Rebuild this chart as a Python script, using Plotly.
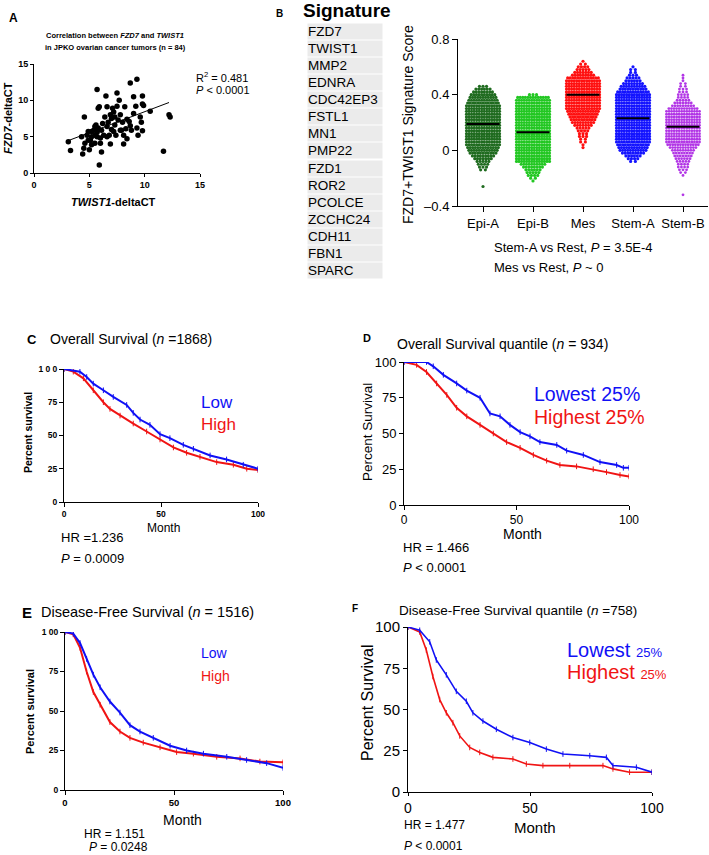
import plotly.graph_objects as go

W, H = 709, 855
FONT = "Liberation Sans, Arial, sans-serif"


def px(x):
    return x / W


def py(y):
    return 1 - y / H


# ---------------- Panel A data ----------------
twist1_dct = [3.1, 3.3, 4.3, 4.4, 4.5, 4.55, 4.6, 4.8, 4.9, 5.0, 5.1, 5.2, 5.2, 5.4, 5.5, 5.5, 5.6,
              5.7, 5.7, 5.8, 5.9, 5.9, 6.0, 6.0, 6.1, 6.2, 6.3, 6.4, 6.5, 6.6, 6.6, 6.7, 6.8, 6.9,
              6.9, 7.0, 7.1, 7.2, 7.3, 7.3, 7.4, 7.5, 7.5, 7.6, 7.7, 7.8, 7.9, 8.0, 8.1, 8.2, 8.3,
              8.4, 8.6, 8.7, 8.8, 9.0, 9.0, 9.2, 9.3, 9.3, 9.4, 9.6, 9.7, 9.8, 9.8, 9.9, 9.8, 10.5,
              11.7, 12.2, 12.3, 5.2, 5.5, 6.1, 7.8, 8.4, 7.0, 5.7, 4.9, 8.1, 8.7, 7.2, 6.6, 5.8]
fzd7_dct = [4.3, 3.1, 5.0, 2.6, 3.4, 7.7, 4.1, 5.2, 5.7, 3.2, 4.5, 5.0, 5.7, 5.9, 6.4, 5.2, 6.6,
            11.5, 5.6, 8.9, 1.1, 9.1, 4.8, 4.1, 5.9, 6.8, 5.2, 7.7, 10.6, 9.1, 6.4, 7.0, 5.2, 4.0,
            8.0, 7.5, 8.9, 8.4, 7.7, 6.6, 5.2, 9.2, 11.0, 7.3, 10.0, 8.0, 5.9, 7.0, 5.2, 9.1, 6.1,
            7.4, 7.1, 12.4, 5.9, 8.2, 10.5, 9.2, 6.2, 12.9, 5.2, 7.7, 7.0, 10.6, 9.5, 9.3, 5.8, 8.5,
            3.0, 8.0, 7.7, 3.9, 4.1, 2.9, 5.9, 4.7, 6.0, 5.0, 4.5, 4.0, 6.5, 5.7, 5.0, 6.2]
fit_x = [3.0, 12.2]
fit_y = [4.4, 9.7]

# ---------------- Panel B data ----------------
signature_genes = ["FZD7", "TWIST1", "MMP2", "EDNRA", "CDC42EP3", "FSTL1", "MN1", "PMP22",
                   "FZD1", "ROR2", "PCOLCE", "ZCCHC24", "CDH11", "FBN1", "SPARC"]
subtypes = ["Epi-A", "Epi-B", "Mes", "Stem-A", "Stem-B"]
subtype_colors = ["#1f6b1f", "#22c722", "#ff1010", "#1414ff", "#b236e6"]
score_levels = [0.64, 0.62, 0.60, 0.58, 0.56, 0.54, 0.52, 0.50, 0.48, 0.46, 0.44, 0.42, 0.40,
                0.38, 0.36, 0.34, 0.32, 0.30, 0.28, 0.26, 0.24, 0.22, 0.20, 0.18, 0.16, 0.14,
                0.12, 0.10, 0.08, 0.06, 0.04, 0.02, 0.00, -0.02, -0.04, -0.06, -0.08, -0.10,
                -0.12, -0.14, -0.16, -0.18, -0.20, -0.22, -0.24, -0.26, -0.28, -0.30, -0.32]
counts_epi_a = [0, 0, 0, 0, 0, 0, 0, 0, 0, 3, 6, 8, 10, 11, 12, 13,
                14, 14, 14, 14, 14, 14, 14, 14, 14, 14, 14, 14, 14, 14, 14,
                13, 12, 11, 9, 7, 5, 4, 3, 2, 0, 0, 0, 0, 0, 1, 0, 0, 0]
counts_epi_b = [0, 0, 0, 0, 0, 0, 0, 0, 0, 0, 0, 0, 3, 13,
                14, 14, 14, 14, 14, 14, 14, 14, 14, 14, 14, 14, 14, 14, 14, 14, 14, 14, 14, 14,
                14, 14, 14, 10, 8, 6, 5, 4, 2, 1, 0, 0, 0, 0, 0]
counts_mes = [1, 2, 4, 5, 7, 9, 13, 14, 14, 14, 14, 14, 14, 14, 14, 14, 14, 14,
              13, 12, 11, 10, 9, 7, 5, 4, 3, 3, 2, 2, 1, 1,
              0, 0, 0, 0, 0, 0, 0, 0, 0, 0, 0, 0, 0, 0, 0, 0, 0]
counts_stem_a = [0, 0, 1, 2, 2, 3, 5, 6, 8, 10, 11, 13,
                 14, 14, 14, 14, 14, 14, 14, 14, 14, 14, 14, 14, 14, 14, 14, 14, 14, 14,
                 13, 12, 11, 9, 6, 4, 2, 0, 0, 0, 0, 0, 0, 0, 0, 0, 0, 0, 0]
counts_stem_b = [0, 0, 0, 0, 0, 1, 1, 1, 2, 2, 3, 3, 4, 4, 5, 7, 9, 12,
                 14, 14, 14, 14, 14, 14, 14, 14, 14, 14, 14, 14,
                 13, 11, 9, 8, 7, 6, 5, 4, 4, 3, 2, 1, 0, 0, 0, 0, 0, 0, 1]
subtype_counts = [counts_epi_a, counts_epi_b, counts_mes, counts_stem_a, counts_stem_b]
subtype_medians = [0.19, 0.13, 0.40, 0.23, 0.17]

# ---------------- Survival data ----------------
c_low_m = [0, 8.2, 11.7, 15.1, 20.3, 25.4, 32.3, 35.7, 39.2, 44.3, 49.5, 54.6, 61.5, 66.7, 75.3, 83.8, 92.4, 100]
c_low_s = [100, 98, 94, 89, 84, 79, 73, 67, 62, 58, 51, 48, 43, 40, 35, 32, 28, 25]
c_high_m = [0, 4.8, 10, 15.1, 20.3, 23.7, 28.9, 35.7, 42.6, 49.5, 56.4, 63.2, 70.1, 78.7, 87.3, 94.2, 100]
c_high_s = [100, 98, 93, 84, 75, 70, 65, 59, 53, 47, 41, 37, 34, 30, 28, 25, 24]

d_low_m = [0, 10, 13, 17.5, 23.4, 27.9, 33.8, 38.2, 42.7, 47.1, 51.6, 56, 60.4, 67.9, 72.3, 79.7, 87.1, 94.5, 97.5, 100]
d_low_s = [100, 100, 97, 91, 85, 80, 75, 64, 62, 56, 51, 48, 44, 42, 38, 35, 30, 28, 26, 26]
d_high_m = [0, 5.6, 10, 14.5, 19, 23.4, 27.9, 33.8, 39.7, 45.6, 51.6, 57.5, 63.4, 69.3, 76.7, 84.1, 90, 96, 100]
d_high_s = [100, 98, 93, 85, 77, 68, 62, 56, 50, 44, 40, 35, 31, 28, 27, 25, 23, 21, 20]

e_low_m = [0, 3.8, 6.9, 9.9, 13, 16.1, 20.6, 25.2, 29.8, 34.4, 40.5, 48.2, 55.8, 63.5, 74.2, 83.3, 92.5, 100]
e_low_s = [100, 99, 93, 83, 73, 65, 56, 49, 41, 37, 33, 28, 25, 23, 21, 19, 17, 14]
e_high_m = [0, 3.8, 6.9, 9.9, 13, 16.1, 20.6, 25.2, 29.8, 35.9, 43.6, 51.2, 58.9, 69.6, 80.3, 89.4, 100]
e_high_s = [100, 98.5, 90, 75, 62, 54, 43, 37, 33, 30, 27, 24, 23, 21, 20, 18, 17.5]

f_low_m = [0, 4.8, 8.9, 11.6, 15.7, 19.8, 23.9, 26.6, 30.7, 36.2, 43, 49.9, 56.7, 63.5, 74.5, 81.3, 84, 93.6, 100]
f_low_s = [100, 98, 91, 80, 71, 61, 55, 48, 43, 38, 33, 30, 26, 23, 22, 21, 16, 15, 12]
f_high_m = [0, 4.8, 7.5, 10.2, 13, 15.7, 18.4, 21.2, 25.3, 29.4, 34.8, 43, 48.5, 55.3, 66.3, 79.9, 84, 90.8, 100]
f_high_s = [100, 97, 86, 70, 56, 48, 42, 34, 27, 24, 21, 20, 17, 16, 16, 16, 14, 12, 12]

BLUE = "#1010f5"
RED = "#f01414"

fig = go.Figure()

# ---- Panel A ----
fig.add_trace(go.Scatter(x=twist1_dct, y=fzd7_dct, mode="markers", xaxis="x", yaxis="y",
                         marker=dict(color="black", size=5.5), hoverinfo="skip"))
fig.add_trace(go.Scatter(x=fit_x, y=fit_y, mode="lines", xaxis="x", yaxis="y",
                         line=dict(color="black", width=1), hoverinfo="skip"))

# ---- Panel B swarm ----
HALF = 0.33
MAXC = 14
for gi, (name, counts, col) in enumerate(zip(subtypes, subtype_counts, subtype_colors)):
    xs, ys = [], []
    for lvl, n in zip(score_levels, counts):
        if n <= 0:
            continue
        hw = HALF * n / MAXC
        for k in range(n):
            off = 0.0 if n == 1 else -hw + 2 * hw * k / (n - 1)
            xs.append(gi + off)
            ys.append(lvl)
    fig.add_trace(go.Scatter(x=xs, y=ys, mode="markers", xaxis="x2", yaxis="y2",
                             marker=dict(color=col, size=3.2 if gi != 4 else 2.8, line=dict(width=0)),
                             hoverinfo="skip"))
    fig.add_trace(go.Scatter(x=[gi - HALF, gi + HALF], y=[subtype_medians[gi]] * 2, mode="lines",
                             xaxis="x2", yaxis="y2", line=dict(color="black", width=2),
                             hoverinfo="skip"))


# ---- Survival panels ----
def km(xs, ys, col, xa, ya, width=2):
    fig.add_trace(go.Scatter(x=xs, y=ys, mode="lines+markers", xaxis=xa, yaxis=ya,
                             line=dict(color=col, width=width),
                             marker=dict(symbol="line-ns", size=4, color=col,
                                         line=dict(width=1, color=col)),
                             hoverinfo="skip"))


km(c_high_m, c_high_s, RED, "x3", "y3")
km(c_low_m, c_low_s, BLUE, "x3", "y3")
km(d_high_m, d_high_s, RED, "x4", "y4")
km(d_low_m, d_low_s, BLUE, "x4", "y4")
km(e_high_m, e_high_s, RED, "x5", "y5")
km(e_low_m, e_low_s, BLUE, "x5", "y5")
km(f_high_m, f_high_s, RED, "x6", "y6", 1.6)
km(f_low_m, f_low_s, BLUE, "x6", "y6", 1.6)


def axis(domain, rng, tickvals, ticktext, size, bold=False, anchor=None, ticklen=4):
    d = dict(domain=domain, range=rng, tickvals=tickvals, ticktext=ticktext, automargin=False,
             showline=True, linecolor="black", linewidth=1, ticks="outside", ticklen=ticklen,
             tickcolor="black", tickwidth=1, showgrid=False, zeroline=False, fixedrange=True,
             tickfont=dict(family=FONT, size=size, color="black", weight="bold" if bold else "normal"))
    if anchor:
        d["anchor"] = anchor
    return d


layout = dict(
    template="none",
    width=W, height=H, margin=dict(l=0, r=0, t=0, b=0, pad=0, autoexpand=False), showlegend=False,
    paper_bgcolor="white", plot_bgcolor="white", font=dict(family=FONT, color="black"),
    xaxis=axis([px(34), px(200)], [0, 15], [0, 5, 10, 15], ["0", "5", "10", "15"], 9, True, "y", 3),
    yaxis=axis([py(173), py(64)], [0, 15], [0, 5, 10, 15], ["0", "5", "10", "15"], 9, True, "x", 3),
    xaxis2=axis([px(458), px(708)], [-0.5, 4.5], [0, 1, 2, 3, 4], subtypes, 13, False, "y2", 5),
    yaxis2=axis([py(206), py(39)], [-0.4, 0.8], [-0.4, 0, 0.4, 0.8], ["\u20130.4", "0", "0.4", "0.8"], 13, False, "x2", 5),
    xaxis3=axis([px(64), px(258)], [0, 100], [0, 50, 100], ["0", "50", "100"], 8.5, True, "y3"),
    yaxis3=axis([py(502), py(369)], [0, 100], [0, 25, 50, 75, 100], ["0", "25", "50", "75", "1 0 0"], 8.5, True, "x3"),
    xaxis4=axis([px(404), px(629)], [0, 100], [0, 50, 100], ["0", "50", "100"], 12, False, "y4"),
    yaxis4=axis([py(505), py(362)], [0, 100], [0, 25, 50, 75, 100], ["0", "25", "50", "75", "100"], 13, False, "x4"),
    xaxis5=axis([px(65), px(283)], [0, 100], [0, 50, 100], ["0", "50", "100"], 9.5, True, "y5"),
    yaxis5=axis([py(790), py(632)], [0, 100], [0, 25, 50, 75, 100], ["0", "25", "50", "75", "1 00"], 8.5, True, "x5"),
    xaxis6=axis([px(408), px(652)], [0, 100], [0, 50, 100], ["0", "50", "100"], 14, False, "y6", 3),
    yaxis6=axis([py(792), py(627)], [0, 100], [0, 25, 50, 75, 100], ["0", "25", "50", "75", "100"], 15, False, "x6"),
)

ann = []


def txt(x, y, text, size, color="black", xanchor="center", angle=0, yanchor="middle", **kw):
    d = dict(x=px(x), y=py(y), xref="paper", yref="paper", text=text, showarrow=False,
             font=dict(family=FONT, size=size, color=color), xanchor=xanchor, yanchor=yanchor,
             textangle=angle)
    d.update(kw)
    ann.append(d)


# Panel A text
txt(13, 18, "<b>A</b>", 12)
txt(115, 35, "<b>Correlation between <i>FZD7</i> and <i>TWIST1</i></b>", 7.5)
txt(115, 48, "<b>in JPKO ovarian cancer tumors (n = 84)</b>", 7.5)
txt(194, 77, "R<sup>2</sup> = 0.481", 11, xanchor="left")
txt(194, 90, "<i>P</i> < 0.0001", 11, xanchor="left")
txt(8, 118, "<b><i>FZD7</i>-deltaCT</b>", 11, angle=-90)
txt(113, 202, "<b><i>TWIST1</i>-deltaCT</b>", 11)

# Panel B text
txt(279, 13, "<b>B</b>", 10)
txt(301, 10, "<b>Signature</b>", 19, xanchor="left")
for i, g in enumerate(signature_genes):
    txt(307, 31.5 + i * 17.07, g, 13.5, xanchor="left", width=74, height=15, bgcolor="#ebebeb",
        align="left", borderpad=0)
txt(408, 125, "FZD7+TWIST1 Signature Score", 14, angle=-90)
txt(492, 248, "Stem-A vs Rest, <i>P</i> = 3.5E-4", 13, xanchor="left")
txt(492, 267, "Mes vs Rest, <i>P</i> ~ 0", 13, xanchor="left")

# Panel C text
txt(32, 339, "<b>C</b>", 13)
txt(48, 339, "Overall Survival (<i>n</i> =1868)", 14, xanchor="left")
txt(28, 433, "<b>Percent survival</b>", 10.5, angle=-90)
txt(163, 528, "Month", 12)
txt(199, 402, "Low", 17, BLUE, xanchor="left")
txt(199, 424, "High", 17, RED, xanchor="left")
txt(59, 537, "HR =1.236", 13, xanchor="left")
txt(59, 558, "<i>P</i> = 0.0009", 13, xanchor="left")

# Panel D text
txt(367, 338, "<b>D</b>", 11)
txt(395, 344, "Overall Survival quantile (<i>n</i> = 934)", 14, xanchor="left")
txt(367, 432, "Percent Survival", 13.5, angle=-90)
txt(522, 534, "Month", 14)
txt(532, 394, "Lowest 25%", 19.5, BLUE, xanchor="left")
txt(532, 417, "Highest 25%", 19.5, RED, xanchor="left")
txt(401, 547, "HR = 1.466", 13, xanchor="left")
txt(401, 567, "<i>P</i> < 0.0001", 13, xanchor="left")

# Panel E text
txt(27, 612, "<b>E</b>", 15)
txt(39, 612, "Disease-Free Survival (<i>n</i> = 1516)", 14.5, xanchor="left")
txt(30, 711, "<b>Percent survival</b>", 11, angle=-90)
txt(182, 820, "Month", 14)
txt(199, 653, "Low", 14, BLUE, xanchor="left")
txt(199, 676, "High", 14, RED, xanchor="left")
txt(82, 834, "HR = 1.151", 12, xanchor="left")
txt(87, 847, "<i>P</i> = 0.0248", 12, xanchor="left")

# Panel F text
txt(355, 608, "<b>F</b>", 10)
txt(397, 610, "Disease-Free Survival quantile (<i>n</i> =758)", 13.5, xanchor="left")
txt(367, 703, "Percent Survival", 16, angle=-90)
txt(535, 827, "Month", 15)
txt(565, 650, "Lowest <span style='font-size:13px'>25%</span>", 20, BLUE, xanchor="left")
txt(565, 672, "Highest <span style='font-size:13px'>25%</span>", 20, RED, xanchor="left")
txt(402, 825, "HR = 1.477", 12, xanchor="left")
txt(402, 846, "<i>P</i> < 0.0001", 12, xanchor="left")

layout["annotations"] = ann
fig.update_layout(**layout)
fig.write_html("out.html", config={"displayModeBar": False},
               post_script="document.body.style.margin='0';document.body.style.overflow='hidden';")
